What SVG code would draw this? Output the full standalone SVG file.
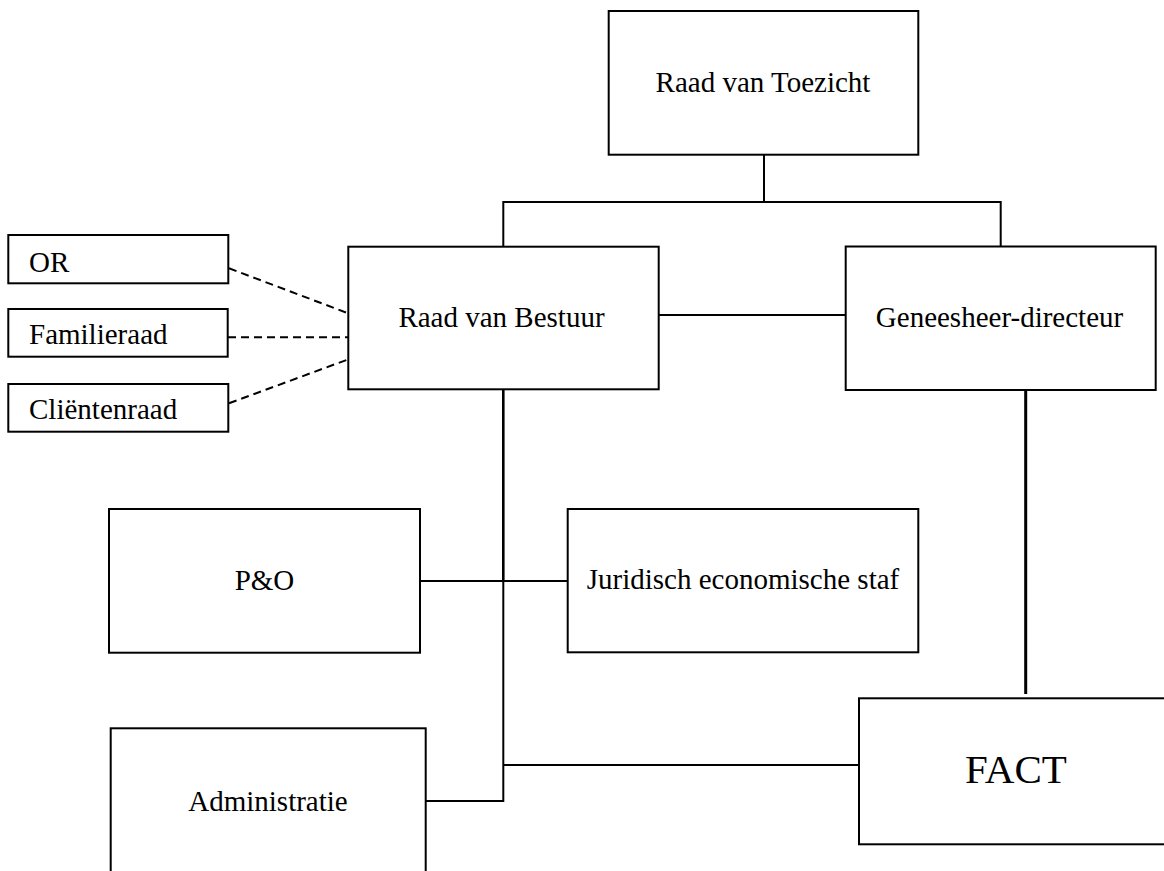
<svg xmlns="http://www.w3.org/2000/svg" width="1164" height="871" viewBox="0 0 1164 871">
<style>
.box{fill:#fff;stroke:#000;stroke-width:2}
.t{font-family:"Liberation Serif","Times New Roman",serif;font-size:29px;fill:#000}
.m{text-anchor:middle}
.ln{stroke:#000;stroke-width:2;fill:none}
.dash{stroke:#000;stroke-width:2;fill:none;stroke-dasharray:8 5}
</style>
<rect width="1164" height="871" fill="#fff"/>
<g id="connectors">
<polyline class="ln" points="764,155 764,202"/>
<polyline class="ln" points="503.3,246.7 503.3,202 1000.7,202 1000.7,246.7"/>
<line class="ln" x1="658.7" y1="315" x2="845.7" y2="315"/>
<line class="ln" x1="1025.7" y1="382" x2="1025.7" y2="694" style="stroke-width:3"/>
<line class="ln" x1="503.3" y1="389.3" x2="503.3" y2="581" style="stroke-width:2.6"/>
<polyline class="ln" points="503.3,581 503.3,801 425.7,801"/>
<line class="ln" x1="420" y1="581" x2="567.7" y2="581"/>
<line class="ln" x1="503.3" y1="765" x2="860" y2="765"/>
<line class="dash" x1="229" y1="268.3" x2="352.7" y2="315"/>
<line class="dash" x1="228" y1="337.3" x2="348.3" y2="337.3"/>
<line class="dash" x1="229" y1="403.3" x2="352.7" y2="357.7"/>
</g>
<g id="raad-van-toezicht">
<rect class="box" x="608.7" y="11" width="309.6" height="143.7"/>
<text class="t m" x="763" y="92">Raad van Toezicht</text>
</g>
<g id="raad-van-bestuur">
<rect class="box" x="348.3" y="246.7" width="310.4" height="142.6"/>
<text class="t m" x="501.5" y="327">Raad van Bestuur</text>
</g>
<g id="geneesheer-directeur">
<rect class="box" x="845.7" y="246.5" width="310" height="143.5"/>
<text class="t m" x="999.5" y="327">Geneesheer-directeur</text>
</g>
<g id="or">
<rect class="box" x="8.3" y="235" width="220" height="48.3"/>
<text class="t" x="29" y="272">OR</text>
</g>
<g id="familieraad">
<rect class="box" x="8.3" y="309" width="219.4" height="47.7"/>
<text class="t" x="29" y="344.3">Familieraad</text>
</g>
<g id="clientenraad">
<rect class="box" x="8.3" y="384" width="220" height="47.7"/>
<text class="t" x="29" y="419.3">Cliëntenraad</text>
</g>
<g id="p-en-o">
<rect class="box" x="109" y="509" width="311" height="143.7"/>
<text class="t m" x="264.5" y="590">P&amp;O</text>
</g>
<g id="juridisch-economische-staf">
<rect class="box" x="567.7" y="509" width="350.6" height="143.3"/>
<text class="t m" x="743" y="589">Juridisch economische staf</text>
</g>
<g id="administratie">
<rect class="box" x="110.7" y="728.3" width="315" height="160"/>
<text class="t m" x="268" y="811">Administratie</text>
</g>
<g id="fact">
<rect class="box" x="859" y="698.3" width="320" height="146"/>
<text class="t m" x="1016" y="783" style="font-size:41px">FACT</text>
</g>
</svg>
